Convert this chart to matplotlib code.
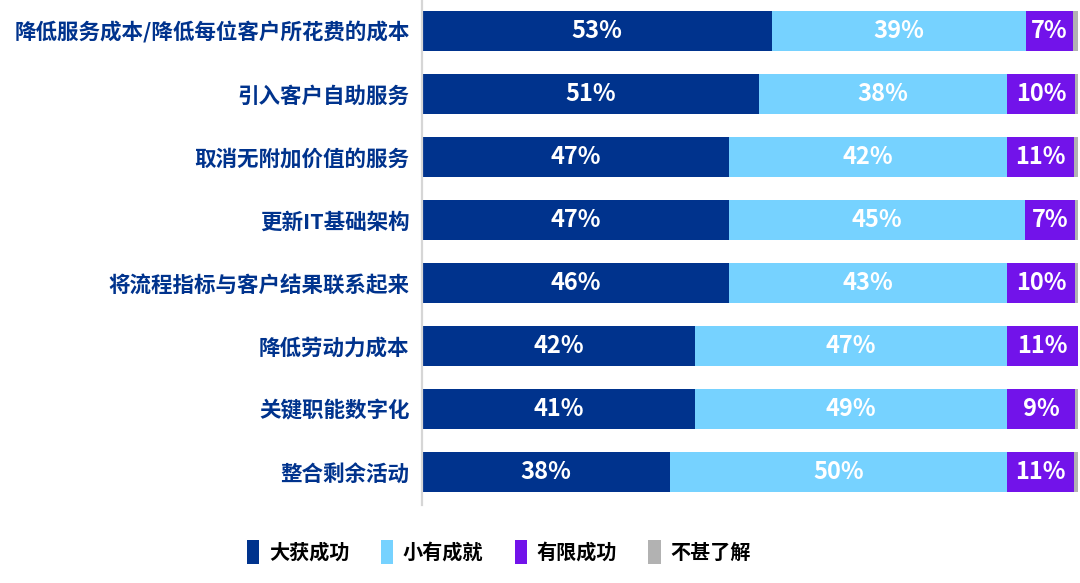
import matplotlib
matplotlib.use('Agg')
import matplotlib.pyplot as plt
from matplotlib.patches import Patch
import numpy as np

plt.rcParams['font.family'] = ['Noto Sans CJK SC', 'DejaVu Sans']

categories = ['降低服务成本/降低每位客户所花费的成本', '引入客户自助服务', '取消无附加价值的服务',
              '更新IT基础架构', '将流程指标与客户结果联系起来', '降低劳动力成本',
              '关键职能数字化', '整合剩余活动']
series_names = ['大获成功', '小有成就', '有限成功', '不甚了解']
# bar lengths (percent)
big = [53.4, 51.4, 46.8, 46.8, 46.8, 41.6, 41.6, 37.8]
some = [38.6, 37.8, 42.4, 45.1, 42.4, 47.6, 47.6, 51.4]
limited = [7.3, 10.4, 10.2, 7.6, 10.3, 10.8, 10.3, 10.2]
unknown = [0.8, 0.4, 0.6, 0.5, 0.5, 0.0, 0.5, 0.6]
# printed labels
big_lbl = ['53%', '51%', '47%', '47%', '46%', '42%', '41%', '38%']
some_lbl = ['39%', '38%', '42%', '45%', '43%', '47%', '49%', '50%']
limited_lbl = ['7%', '10%', '11%', '7%', '10%', '11%', '9%', '11%']

colors = ['#00338d', '#76d2ff', '#7213ea', '#b2b2b2']

fig = plt.figure(figsize=(10.8, 5.83), dpi=100)
ax = fig.add_axes([422 / 1080, 1 - 505 / 583, 656 / 1080, 505 / 583])

y = np.arange(len(categories))
left = np.zeros(len(categories))
for vals, lbls, col in zip([big, some, limited, unknown],
                           [big_lbl, some_lbl, limited_lbl, None], colors):
    vals = np.array(vals)
    ax.barh(y, vals, left=left, height=0.643, color=col, edgecolor='none')
    if lbls is not None:
        for yi, l, v, t in zip(y, left, vals, lbls):
            ax.text(l + v / 2, yi, t, ha='center', va='center', color='white',
                    fontsize=17, fontweight='bold')
    left += vals

ax.set_xlim(0, 100)
ax.set_ylim(7.52, -0.49)
ax.set_yticks(y)
ax.set_yticklabels(categories, fontsize=15.5, fontweight='bold', color='#00338d')
ax.tick_params(axis='y', length=0, pad=9)
ax.set_xticks([])
for s in ['top', 'right', 'bottom']:
    ax.spines[s].set_visible(False)
ax.spines['left'].set_color('#d6d6d6')
ax.spines['left'].set_linewidth(1.6)

handles = [Patch(facecolor=c, edgecolor='none') for c in colors]
fig.legend(handles, series_names, loc='center', bbox_to_anchor=(0.462, 0.053), ncol=4,
           frameon=False, prop={'size': 14.5, 'weight': 'bold'},
           handlelength=0.6, handleheight=1.45, handletextpad=0.5, columnspacing=1.55)

fig.savefig('out.png', dpi=100)
